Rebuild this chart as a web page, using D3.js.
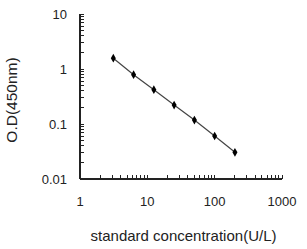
<!DOCTYPE html>
<html><head><meta charset="utf-8">
<script src="https://cdn.jsdelivr.net/npm/d3@7"></script>
<style>
html,body{margin:0;padding:0;background:#fff;}
svg{display:block;}
text{font-family:"Liberation Sans",Arial,sans-serif;fill:#222;}
</style></head><body>
<svg id="c" width="307" height="249"></svg>
<script>
const concentrations = [3.125, 6.25, 12.5, 25, 50, 100, 200];
const odValues = [1.57, 0.787, 0.42, 0.221, 0.118, 0.0605, 0.0306];
const xTicks = [1, 10, 100, 1000];
const yTicks = [0.01, 0.1, 1, 10];
const xTitle = "standard concentration(U/L)";
const yTitle = "O.D(450nm)";

const svg = d3.select("#c");
const x = d3.scaleLog().domain([1, 1000]).range([80, 282]);
const y = d3.scaleLog().domain([0.01, 10]).range([179, 14]);

function minors(lo, hi){
  const out=[];
  for(let d=lo; d<hi; d*=10){ for(let k=2;k<=9;k++) out.push(d*k); }
  return out;
}

// axes lines
const g = svg.append("g").attr("stroke","#222").attr("stroke-width",1.2).attr("shape-rendering","crispEdges");
g.append("line").attr("x1",x(1)).attr("x2",x(1)).attr("y1",y(10)).attr("y2",y(0.01));
g.append("line").attr("x1",x(1)).attr("x2",x(1000)).attr("y1",y(0.01)).attr("y2",y(0.01));
// y ticks (inward)
minors(0.01,10).concat(yTicks).forEach(v=>{
  g.append("line").attr("x1",x(1)).attr("x2",x(1)+4).attr("y1",y(v)).attr("y2",y(v)).attr("stroke-width",1);
});
// x ticks (inward / up)
minors(1,1000).concat(xTicks).forEach(v=>{
  g.append("line").attr("x1",x(v)).attr("x2",x(v)).attr("y1",y(0.01)).attr("y2",y(0.01)-4).attr("stroke-width",1);
});

// tick labels
svg.selectAll(".yl").data(yTicks).enter().append("text")
  .attr("x",67).attr("y",d=>y(d)).attr("dy","0.35em").attr("text-anchor","end")
  .attr("font-size",13).text(d=>d3.format("")(d));
svg.selectAll(".xl").data(xTicks).enter().append("text")
  .attr("x",d=>x(d)).attr("y",206).attr("text-anchor","middle")
  .attr("font-size",13).text(d=>d);

// titles
svg.append("text").attr("x",183.5).attr("y",240.5).attr("text-anchor","middle").attr("font-size",15).text(xTitle);
svg.append("text").attr("transform","translate(16.5,100) rotate(-90)").attr("text-anchor","middle").attr("font-size",15.5).text(yTitle);

// line
const line = d3.line().x((d,i)=>x(concentrations[i])).y(d=>y(d));
svg.append("path").datum(odValues).attr("d",line).attr("fill","none").attr("stroke","#444").attr("stroke-width",1.2);
svg.selectAll(".pt").data(odValues).enter().append("path")
  .attr("transform",(d,i)=>`translate(${x(concentrations[i])},${y(d)})`)
  .attr("d",d3.symbol().type(d3.symbolDiamond).size(22)).attr("fill","#000");
</script>
</body></html>
